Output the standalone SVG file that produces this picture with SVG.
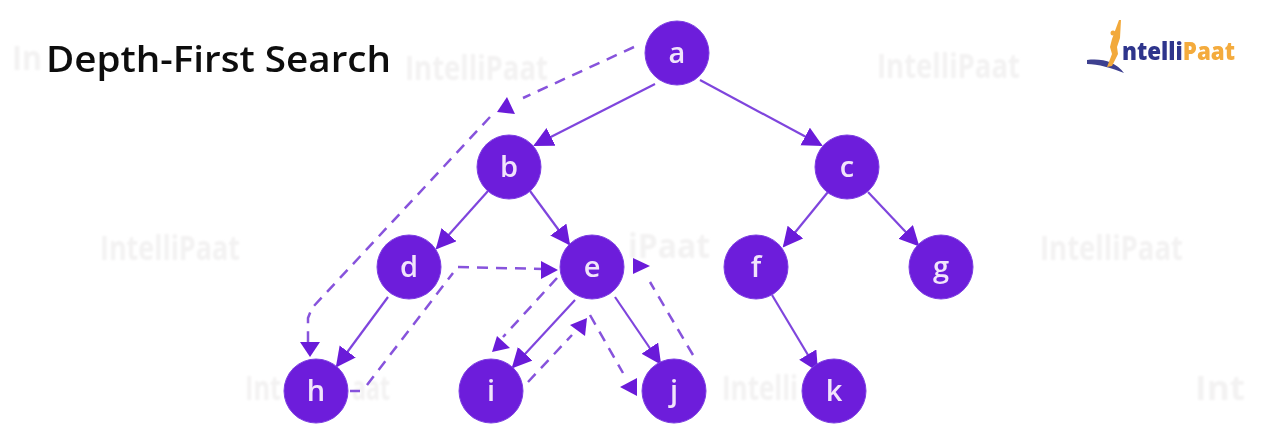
<svg xmlns="http://www.w3.org/2000/svg" width="1262" height="427" viewBox="0 0 1262 427">
<style>
.n{fill:#6d1ddb;stroke:#7d3fe2;stroke-width:1}
.nt{font-family:"Open Sans","Liberation Sans",sans-serif;font-size:29px;font-weight:600;fill:#f1e4fb;text-anchor:middle;filter:url(#b3)}
.s{fill:none;stroke:#7f45dd;stroke-width:2.2;marker-end:url(#ah)}
.d{fill:none;stroke:#8753dc;stroke-width:2.5;stroke-dasharray:11 8}
.h{fill:#6a1bd9}
.wm{font-family:"Open Sans","Liberation Sans",sans-serif;font-size:34px;font-weight:700;fill:#f3f2f2;filter:url(#b)}
</style>
<defs>
<marker id="ah" markerUnits="userSpaceOnUse" markerWidth="22" markerHeight="22" refX="18" refY="10" orient="auto">
<path d="M0 0L20 10L0 20Z" fill="#6a1bd9"/>
</marker>
<filter id="b"><feGaussianBlur stdDeviation="1.2"/></filter>
<filter id="b2"><feGaussianBlur stdDeviation="0.7"/></filter>
<filter id="b3"><feGaussianBlur stdDeviation="0.4"/></filter>
</defs>
<rect width="1262" height="427" fill="#fff"/>
<g id="watermarks">
<text class="wm" x="12" y="70" textLength="30" lengthAdjust="spacingAndGlyphs">In</text>
<text class="wm" x="405" y="80" textLength="143" lengthAdjust="spacingAndGlyphs">IntelliPaat</text>
<text class="wm" x="877" y="78" textLength="143" lengthAdjust="spacingAndGlyphs">IntelliPaat</text>
<text class="wm" x="100" y="260" textLength="140" lengthAdjust="spacingAndGlyphs">IntelliPaat</text>
<text class="wm" x="628" y="258" textLength="82" lengthAdjust="spacingAndGlyphs">iPaat</text>
<text class="wm" x="1040" y="260" textLength="143" lengthAdjust="spacingAndGlyphs">IntelliPaat</text>
<text class="wm" x="245" y="400" textLength="36" lengthAdjust="spacingAndGlyphs">Int</text>
<text class="wm" x="352" y="400" textLength="38" lengthAdjust="spacingAndGlyphs">aat</text>
<text class="wm" x="722" y="400" textLength="76" lengthAdjust="spacingAndGlyphs">Intelli</text>
<text class="wm" x="1195" y="400" textLength="50" lengthAdjust="spacingAndGlyphs">Int</text>
</g>
<text id="title" x="46" y="72" font-family="'Open Sans','Liberation Sans',sans-serif" font-size="36" font-weight="600" fill="#111" textLength="345" lengthAdjust="spacingAndGlyphs" filter="url(#b3)">Depth-First Search</text>
<g id="logo" filter="url(#b2)">
<path d="M1087 60C1102 58 1116 62 1124 73C1112 68 1098 64 1087 64Z" fill="#3d3f8f"/>
<path d="M1119 20L1121 20L1120 38L1117 47L1118 54L1112 66L1107 67L1112 54L1110 47L1112 39Z" fill="#f2a93b"/>
<circle cx="1113" cy="33" r="2.5" fill="#f2a93b"/>
<text x="1122" y="60" font-family="'Open Sans','Liberation Sans',sans-serif" font-size="24" font-weight="800" fill="#2f348c" textLength="113" lengthAdjust="spacingAndGlyphs">ntelli<tspan fill="#f4ab3c">Paat</tspan></text>
</g>
<g id="connectors">
<path class="s" d="M655 84L535 145"/>
<path class="s" d="M700 80L821 145"/>
<path class="s" d="M488 191L437 248"/>
<path class="s" d="M530 191L569 244"/>
<path class="s" d="M828 192L784 246"/>
<path class="s" d="M868 192L918 245"/>
<path class="s" d="M388 297L337 366"/>
<path class="s" d="M575 300L513 367"/>
<path class="s" d="M615 297L660 363"/>
<path class="s" d="M772 295L817 370"/>
<path class="d" d="M634 47L523 98"/>
<path class="d" d="M490 117L312 308L308 318L308 345"/>
<path class="d" d="M458 267L543 269"/>
<path class="d" d="M350 391L360 391M367 385L453 273"/>
<path class="d" d="M557 278L503 337"/>
<path class="d" d="M528 382L572 335"/>
<path class="d" d="M590 315L623 373"/>
<path class="d" d="M693 355L650 282"/>
<polygon class="h" points="507,97 497,112 515,114"/>
<polygon class="h" points="310,357 300,342 320,342"/>
<polygon class="h" points="558,270 541,261 541,279"/>
<polygon class="h" points="492,352 497,336 510,348"/>
<polygon class="h" points="587,318 570,325 585,336"/>
<polygon class="h" points="620,387 637,378 637,396"/>
<polygon class="h" points="650,266 633,258 633,274"/>
</g>
<g id="node-a"><circle class="n" cx="677" cy="53" r="32"/><text class="nt" x="677" y="63">a</text></g>
<g id="node-b"><circle class="n" cx="509" cy="167" r="32"/><text class="nt" x="509" y="177">b</text></g>
<g id="node-c"><circle class="n" cx="847" cy="167" r="32"/><text class="nt" x="847" y="177">c</text></g>
<g id="node-d"><circle class="n" cx="409" cy="267" r="32"/><text class="nt" x="409" y="277">d</text></g>
<g id="node-e"><circle class="n" cx="592" cy="267" r="32"/><text class="nt" x="592" y="277">e</text></g>
<g id="node-f"><circle class="n" cx="756" cy="267" r="32"/><text class="nt" x="756" y="277">f</text></g>
<g id="node-g"><circle class="n" cx="941" cy="267" r="32"/><text class="nt" x="941" y="277">g</text></g>
<g id="node-h"><circle class="n" cx="316" cy="391" r="32"/><text class="nt" x="316" y="401">h</text></g>
<g id="node-i"><circle class="n" cx="491" cy="391" r="32"/><text class="nt" x="491" y="401">i</text></g>
<g id="node-j"><circle class="n" cx="674" cy="391" r="32"/><text class="nt" x="674" y="401">j</text></g>
<g id="node-k"><circle class="n" cx="834" cy="391" r="32"/><text class="nt" x="834" y="401">k</text></g>
</svg>
